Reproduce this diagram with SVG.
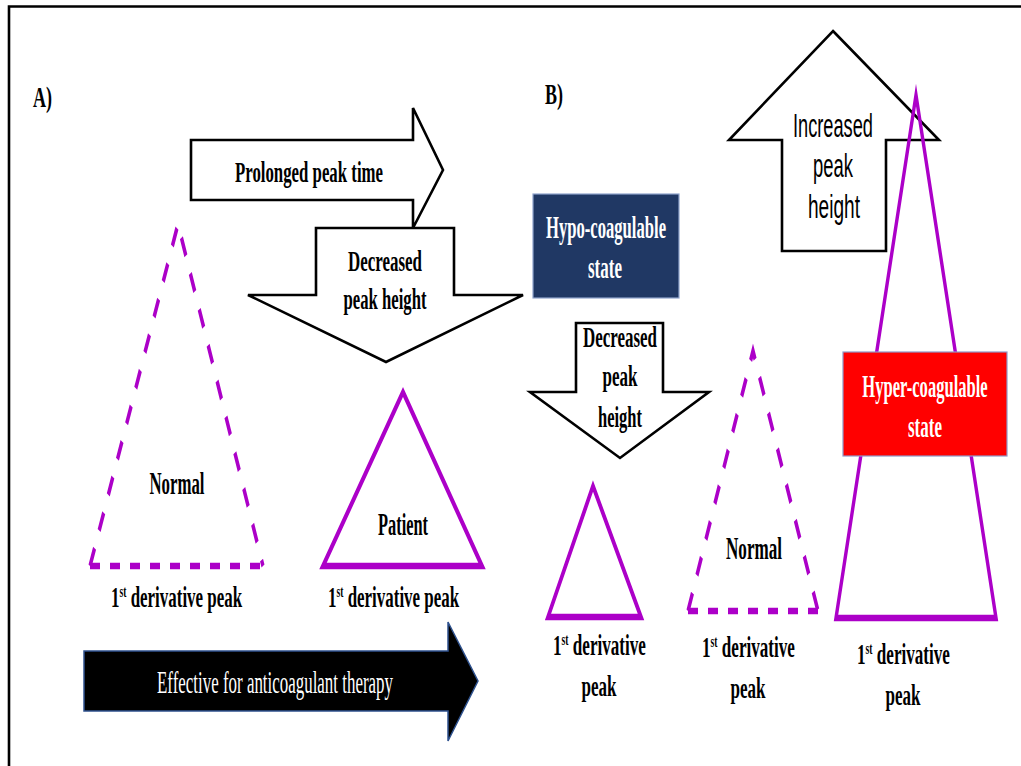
<svg xmlns="http://www.w3.org/2000/svg" width="1021" height="766" viewBox="0 0 1021 766">
<style>
.t{font-family:"Liberation Serif","Times New Roman",serif;font-weight:bold;fill:#000;text-anchor:middle}
.tl{font-family:"Liberation Serif","Times New Roman",serif;font-weight:bold;fill:#000}
.d{font-family:"Liberation Serif","Times New Roman",serif;font-weight:bold;fill:#000;font-size:30px}
.sup{font-size:17px}
.w{fill:#fff}
.s{font-family:"Liberation Sans Narrow","Liberation Sans",Arial,sans-serif;fill:#000;text-anchor:middle}
.arr{fill:#fff;stroke:#000;stroke-width:2.6;stroke-linejoin:miter}
.tri{fill:none;stroke:#AC00C8;stroke-width:3.3}
.dash{stroke-dasharray:10 10}
</style>
<rect width="1021" height="766" fill="#fff"/>
<path d="M9,766 V6.5 H1021" fill="none" stroke="#000" stroke-width="2.6"/>

<g id="labelA"><text class="tl" x="33" y="107" font-size="30" textLength="19" lengthAdjust="spacingAndGlyphs">A)</text></g>
<g id="labelB"><text class="tl" x="545" y="104" font-size="30" textLength="18" lengthAdjust="spacingAndGlyphs">B)</text></g>

<g id="connectors">
  <g id="arrow-prolonged">
    <polygon class="arr" points="191,140 413,140 413,108 443,170 413,228 413,200 191,200"/>
    <text class="t" x="309" y="182" font-size="29" textLength="148" lengthAdjust="spacingAndGlyphs">Prolonged peak time</text>
  </g>
  <g id="arrow-decreasedA">
    <polygon class="arr" points="316,228 454,228 454,295 523,295 386,362 248,295 316,295"/>
    <text class="t" x="385" y="271" font-size="29" textLength="74" lengthAdjust="spacingAndGlyphs">Decreased</text>
    <text class="t" x="385" y="309" font-size="29" textLength="83" lengthAdjust="spacingAndGlyphs">peak height</text>
  </g>
  <g id="arrow-therapy">
    <polygon points="84,651 448,651 448,622 478,681 448,741 448,711 84,711" fill="#000" stroke="#2F528F" stroke-width="1.5"/>
    <text x="275" y="693" font-family="Liberation Serif,Times New Roman,serif" font-size="32" fill="#fff" text-anchor="middle" textLength="236" lengthAdjust="spacingAndGlyphs">Effective for anticoagulant therapy</text>
  </g>
  <g id="arrow-increased">
    <polygon class="arr" points="833,31 939,140 886,140 886,251 782,251 782,140 729,140"/>
    <text class="s" x="833" y="137" font-size="33" textLength="80" lengthAdjust="spacingAndGlyphs">Increased</text>
    <text class="s" x="833" y="177" font-size="33" textLength="40" lengthAdjust="spacingAndGlyphs">peak</text>
    <text class="s" x="834" y="218" font-size="33" textLength="52" lengthAdjust="spacingAndGlyphs">height</text>
  </g>
  <g id="arrow-decreasedB">
    <polygon class="arr" points="576,323 663,323 663,392 709,392 620,458 530,392 576,392"/>
    <text class="t" x="620" y="347" font-size="29" textLength="74" lengthAdjust="spacingAndGlyphs">Decreased</text>
    <text class="t" x="620" y="386" font-size="29" textLength="35" lengthAdjust="spacingAndGlyphs">peak</text>
    <text class="t" x="620" y="427" font-size="29" textLength="44" lengthAdjust="spacingAndGlyphs">height</text>
  </g>
</g>

<g id="normalA">
  <g transform="scale(1,2)">
    <path class="tri dash" d="M90,283 H263"/>
    <path class="tri dash" d="M90,283 L178,112 L263,283"/>
  </g>
  <text class="t" x="177" y="494" font-size="32" textLength="55" lengthAdjust="spacingAndGlyphs">Normal</text>
  <text class="d" transform="translate(111,607) scale(0.565,1)">1<tspan class="sup" dy="-10">st</tspan><tspan dy="10"> derivative peak</tspan></text>
</g>

<g id="patientA">
  <g transform="scale(1,2)">
    <polygon class="tri" points="323,283 403,196 482,283"/>
  </g>
  <text class="t" x="403" y="535" font-size="32" textLength="50" lengthAdjust="spacingAndGlyphs">Patient</text>
  <text class="d" transform="translate(328,607) scale(0.565,1)">1<tspan class="sup" dy="-10">st</tspan><tspan dy="10"> derivative peak</tspan></text>
</g>

<g id="hypo">
  <rect x="533" y="194" width="146" height="104" fill="#203864" stroke="#8FA3CC" stroke-width="1.2"/>
  <text class="t w" x="606" y="238" font-size="32" textLength="120" lengthAdjust="spacingAndGlyphs">Hypo-coagulable</text>
  <text class="t w" x="605" y="278" font-size="32" textLength="34" lengthAdjust="spacingAndGlyphs">state</text>
</g>

<g id="smallB">
  <g transform="scale(1,2)">
    <polygon class="tri" points="548,308.5 593,243 641,308.5"/>
  </g>
  <text class="d" transform="translate(553,655) scale(0.57,1)">1<tspan class="sup" dy="-10">st</tspan><tspan dy="10"> derivative</tspan></text>
  <text class="t" x="599" y="696" font-size="30" textLength="35" lengthAdjust="spacingAndGlyphs">peak</text>
</g>

<g id="normalB">
  <g transform="scale(1,2)">
    <path class="tri dash" d="M688,305.5 H818"/>
    <path class="tri dash" d="M688,305.5 L753,175.5 L818,305.5"/>
  </g>
  <text class="t" x="754" y="559" font-size="32" textLength="56" lengthAdjust="spacingAndGlyphs">Normal</text>
  <text class="d" transform="translate(702,657) scale(0.57,1)">1<tspan class="sup" dy="-10">st</tspan><tspan dy="10"> derivative</tspan></text>
  <text class="t" x="748" y="698" font-size="30" textLength="35" lengthAdjust="spacingAndGlyphs">peak</text>
</g>

<g id="hyperB">
  <g transform="scale(1,2)">
    <polygon class="tri" points="836,309 916,47.5 996,309"/>
  </g>
  <text class="d" transform="translate(857,664) scale(0.57,1)">1<tspan class="sup" dy="-10">st</tspan><tspan dy="10"> derivative</tspan></text>
  <text class="t" x="903" y="705" font-size="30" textLength="35" lengthAdjust="spacingAndGlyphs">peak</text>
</g>

<g id="hyper">
  <rect x="843" y="352" width="164" height="104" fill="#FF0000" stroke="#8F98C8" stroke-width="1.2"/>
  <text class="t w" font-size="32" transform="translate(925,397) scale(0.517,1)">Hyper-coagulable</text>
  <text class="t w" x="925" y="437" font-size="32" textLength="34" lengthAdjust="spacingAndGlyphs">state</text>
</g>
</svg>
